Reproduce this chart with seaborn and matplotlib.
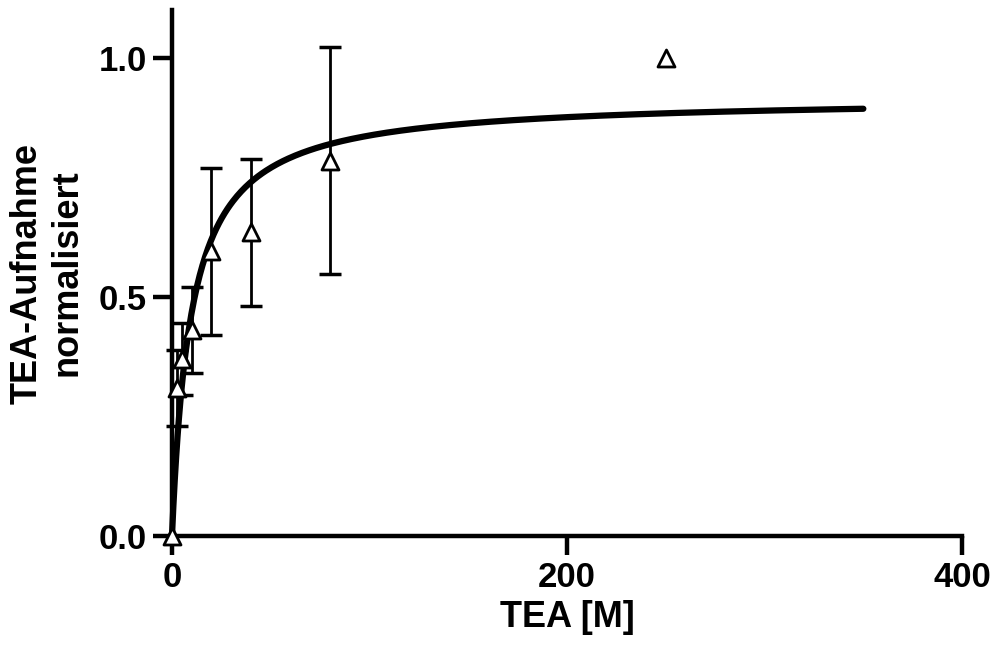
import numpy as np
import pandas as pd
import matplotlib
matplotlib.use("Agg")
import matplotlib.pyplot as plt
import seaborn as sns

tea_conc = [0, 2.5, 5, 10, 20, 40, 80, 250]
uptake = [0.0, 0.31, 0.37, 0.43, 0.595, 0.635, 0.785, 1.0]
uptake_err = [0.0, 0.08, 0.075, 0.09, 0.175, 0.153, 0.238, 0.0]

# Parameter der Sättigungskurve (Michaelis-Menten Fit)
bmax = 0.918
kd = 9.6
x_fit_max = 350

sns.set_style("ticks", {'axes.edgecolor': 'black', 'text.color': 'black',
                        'xtick.color': 'black', 'ytick.color': 'black',
                        'axes.labelcolor': 'black'})
plt.rcParams['font.family'] = ['Liberation Sans', 'DejaVu Sans']
plt.rcParams['font.weight'] = 'bold'

fig = plt.figure(figsize=(9.97, 6.55), dpi=100)
ax = fig.add_axes([0.1725, 0.1817, 0.7925, 0.803])

x_fit = np.linspace(0, x_fit_max, 500)
fit = pd.DataFrame({'x': x_fit, 'y': bmax * x_fit / (kd + x_fit)})
sns.lineplot(data=fit, x='x', y='y', color='black', linewidth=4.5, ax=ax, clip_on=False)

# Fehlerbalken nur dort, wo eine Streuung vorhanden ist
has_err = [e > 0 for e in uptake_err]
ax.errorbar([x for x, h in zip(tea_conc, has_err) if h],
            [y for y, h in zip(uptake, has_err) if h],
            yerr=[e for e in uptake_err if e > 0], fmt='none', ecolor='black',
            elinewidth=2, capsize=8, capthick=2.5, clip_on=False)
sns.scatterplot(x=tea_conc, y=uptake, marker='^', s=150, facecolor='white',
                edgecolor='black', linewidth=2, ax=ax, clip_on=False, zorder=5)

ax.set_xlim(0, 400)
ax.set_ylim(0, 1.1)
ax.set_xticks([0, 200, 400])
ax.set_yticks([0.0, 0.5, 1.0])
ax.set_yticklabels(['0.0', '0.5', '1.0'])
sns.despine(ax=ax)
for s in ['left', 'bottom']:
    ax.spines[s].set_linewidth(3.2)
ax.tick_params(width=3.2, length=14, labelsize=25, pad=4)
for lab in ax.get_xticklabels() + ax.get_yticklabels():
    lab.set_fontweight('bold')

ax.set_xlabel('TEA [M]', fontsize=26, fontweight='bold', labelpad=4)
ax.set_ylabel('TEA-Aufnahme\nnormalisiert', fontsize=26, fontweight='bold', labelpad=10)

fig.savefig('out.png', dpi=100)
